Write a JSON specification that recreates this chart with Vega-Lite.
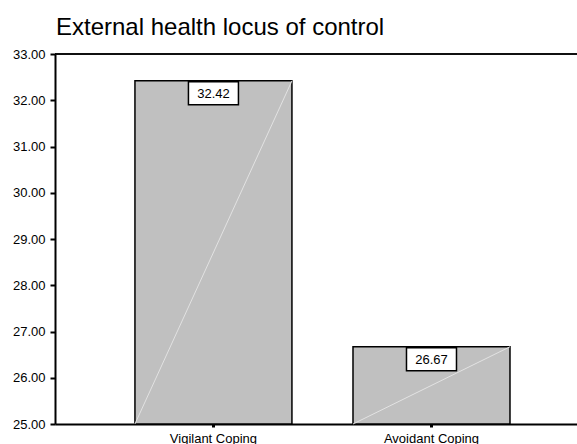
{
  "$schema": "https://vega.github.io/schema/vega-lite/v6.json",
  "autosize": "none",
  "width": 522,
  "height": 370,
  "padding": {"left": 55, "top": 54, "right": 0, "bottom": 20},
  "background": "white",
  "title": {
    "text": "External health locus of control",
    "anchor": "start",
    "frame": "group",
    "font": "Liberation Sans",
    "fontSize": 24,
    "fontWeight": "normal",
    "color": "black",
    "offset": 8,
    "dx": 1
  },
  "config": {
    "view": {"stroke": null},
    "font": "Liberation Sans"
  },
  "data": {
    "values": [
      {"group": "Vigilant Coping", "value": 32.42},
      {"group": "Avoidant Coping", "value": 26.67}
    ]
  },
  "layer": [
    {
      "mark": {"type": "bar", "fill": "#c0c0c0", "stroke": "black", "strokeWidth": 1.5},
      "encoding": {
        "x": {
          "field": "group",
          "type": "nominal",
          "sort": null,
          "scale": {"paddingInner": 0.28, "paddingOuter": 0.337, "align": 0.544},
          "axis": {
            "title": null,
            "labelAngle": 0,
            "labelFont": "Liberation Sans",
            "labelFontSize": 13,
            "labelColor": "black",
            "labelPadding": 5,
            "domainColor": "black",
            "domainWidth": 2,
            "tickColor": "black",
            "tickSize": 3,
            "tickWidth": 3,
            "grid": false
          }
        },
        "y": {
          "field": "value",
          "type": "quantitative",
          "scale": {"domain": [25, 33], "zero": false, "nice": false},
          "axis": {
            "title": null,
            "values": [25, 26, 27, 28, 29, 30, 31, 32, 33],
            "format": ".2f",
            "labelFont": "Liberation Sans",
            "labelFontSize": 13,
            "labelColor": "black",
            "labelPadding": 5,
            "domainColor": "black",
            "domainWidth": 2,
            "tickColor": "black",
            "tickSize": 5,
            "tickWidth": 2,
            "grid": false
          }
        },
        "y2": {"datum": 25}
      }
    },
    {
      "mark": {"type": "rule", "color": "#e2e2e2", "strokeWidth": 1},
      "encoding": {
        "x": {"field": "group", "type": "nominal", "sort": null, "bandPosition": 1},
        "x2": {"field": "group", "bandPosition": 0},
        "y": {"field": "value", "type": "quantitative"},
        "y2": {"datum": 25}
      }
    },
    {
      "mark": {
        "type": "point",
        "shape": "M-1,-0.46L1,-0.46L1,0.46L-1,0.46Z",
        "size": 2500,
        "filled": true,
        "fill": "white",
        "stroke": "black",
        "strokeWidth": 1.5,
        "opacity": 1,
        "yOffset": 12.5
      },
      "encoding": {
        "x": {"field": "group", "type": "nominal", "sort": null},
        "y": {"field": "value", "type": "quantitative"}
      }
    },
    {
      "mark": {
        "type": "text",
        "font": "Liberation Sans",
        "fontSize": 13,
        "color": "black",
        "baseline": "middle",
        "align": "center",
        "yOffset": 13
      },
      "encoding": {
        "x": {"field": "group", "type": "nominal", "sort": null},
        "y": {"field": "value", "type": "quantitative"},
        "text": {"field": "value", "type": "quantitative", "format": ".2f"}
      }
    },
    {
      "mark": {"type": "rule", "color": "black", "strokeWidth": 1.5},
      "encoding": {
        "y": {"datum": 33}
      }
    }
  ]
}
